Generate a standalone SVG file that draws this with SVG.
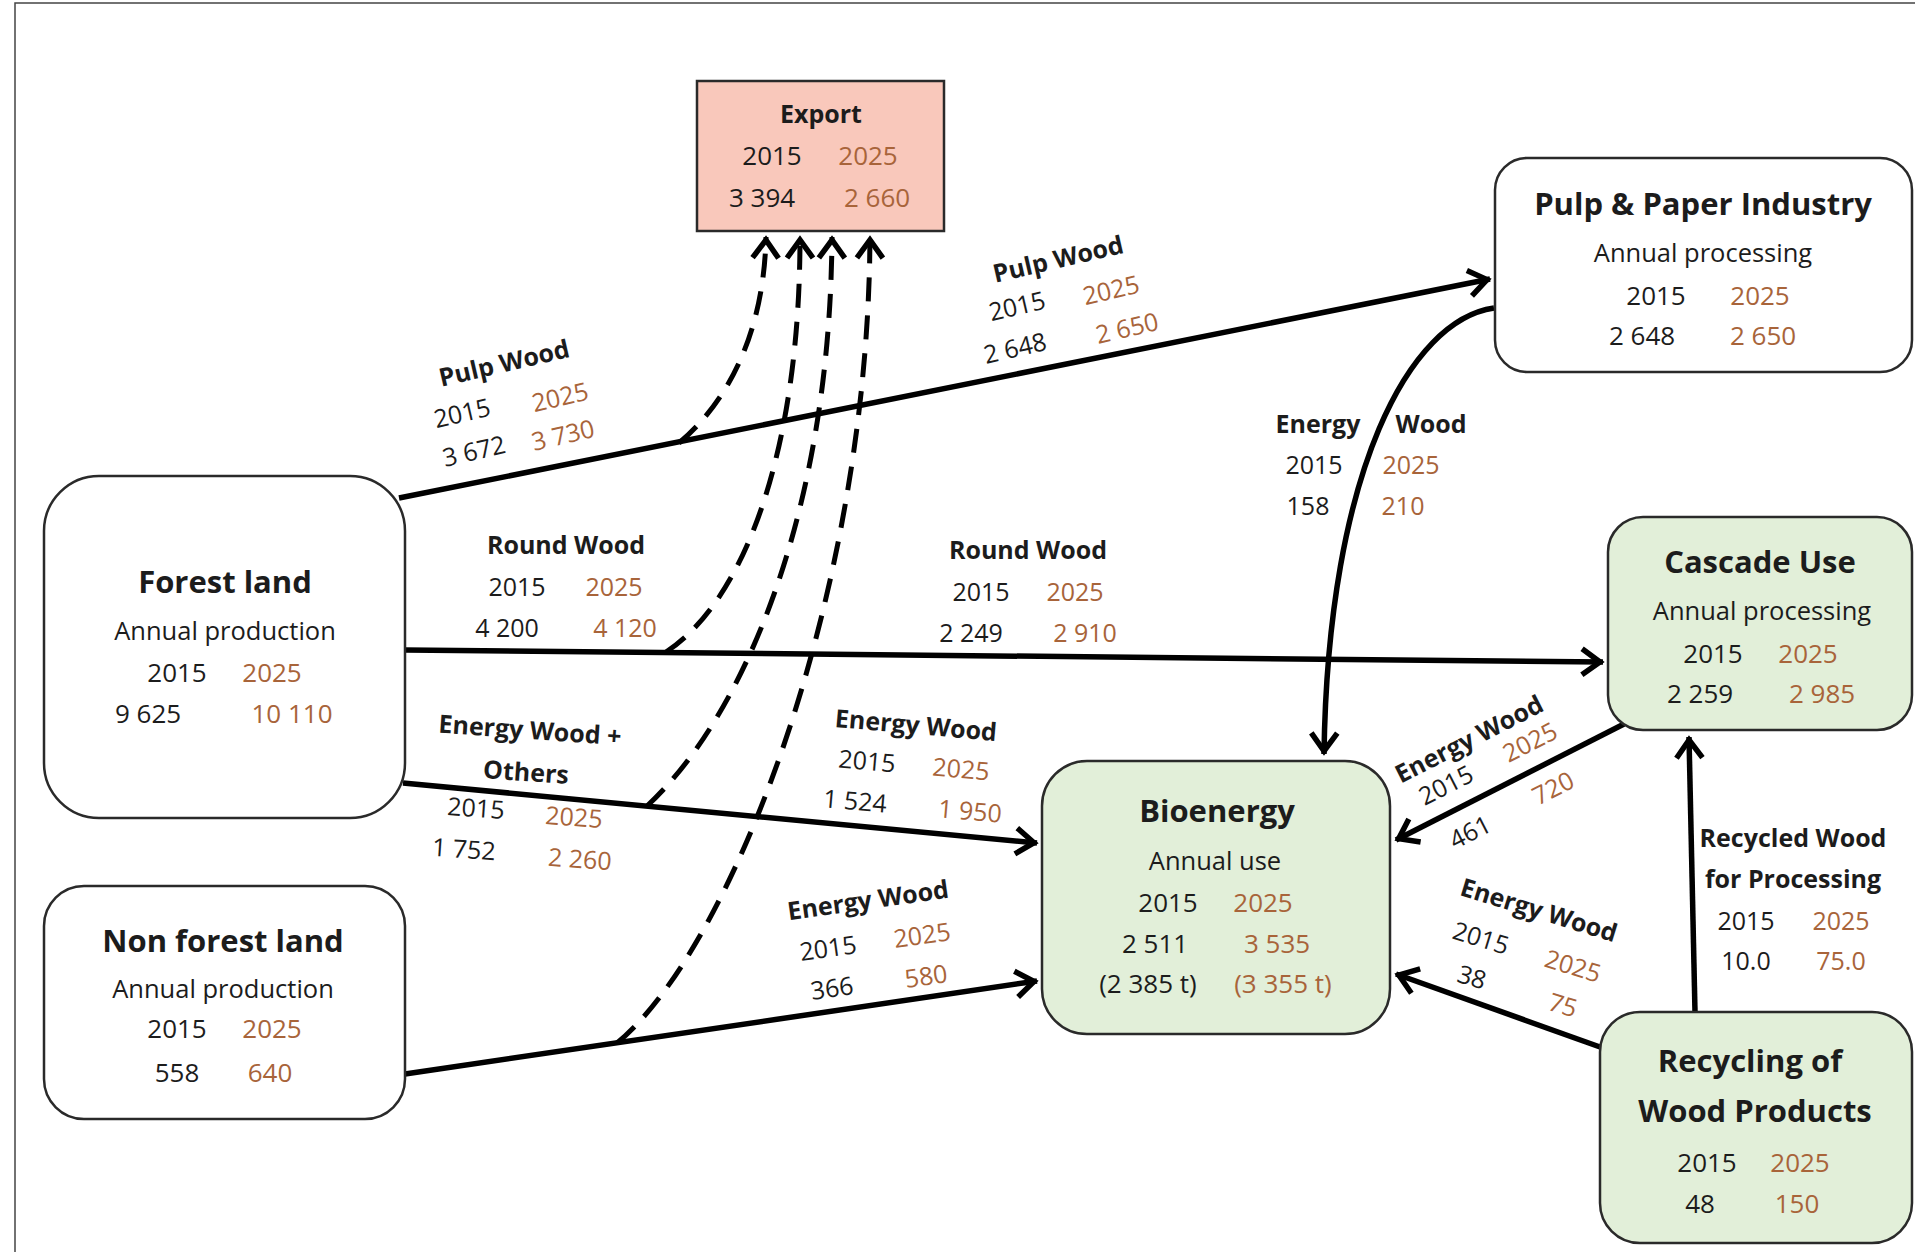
<svg xmlns="http://www.w3.org/2000/svg" width="1915" height="1252" viewBox="0 0 1915 1252">
<defs>
<style>
text{font-family:"Open Sans","Noto Sans","Liberation Sans",sans-serif;text-anchor:middle;fill:#1c1c1c}
.t{font-size:31px;font-weight:700}
.s{font-size:25.5px}
.l{font-size:25px;font-weight:700}
.n{font-size:25px}
.v{font-size:26px}
.o{fill:#a8643a}
.node{stroke:#2a2a2a;stroke-width:2.5}
.w{fill:#ffffff}
.g{fill:#e2efd9}
.line{fill:none;stroke:#000;stroke-width:5.5;marker-end:url(#ah)}
.dash{fill:none;stroke:#000;stroke-width:5;stroke-dasharray:24 14;marker-end:url(#ah)}
</style>
<marker id="ah" markerUnits="userSpaceOnUse" markerWidth="50" markerHeight="50" viewBox="-30 -25 50 50" refX="3" refY="0" orient="auto" overflow="visible">
<path d="M-18,-13 L0,0 L-18,13" fill="none" stroke="#000" stroke-width="5.5" stroke-dasharray="none" stroke-linejoin="miter"/>
</marker>
</defs>
<rect x="0" y="0" width="1915" height="1252" fill="#ffffff"/>
<path d="M15,1252 V3 H1915" fill="none" stroke="#444" stroke-width="1.5"/>

<g id="connectors">
<path class="line" d="M399,498 L1490,279"/>
<path class="line" d="M405,650 L1603,662"/>
<path class="line" d="M403,783 L1037,843"/>
<path class="line" d="M405,1074 L1037,981"/>
<path class="line" d="M1494,308 C1410,320 1328,470 1324,754"/>
<path class="line" d="M1624,724 L1396,840"/>
<path class="line" d="M1600,1047 L1396,974"/>
<path class="line" d="M1695,1012 L1689,737"/>
<path class="dash" d="M679,443 C730,400 764,330 766,237"/>
<path class="dash" d="M666,652 C745,600 800,450 800,237"/>
<path class="dash" d="M647,806 C740,720 830,520 832,237"/>
<path class="dash" d="M617,1043 C730,950 868,600 870,237"/>
</g>

<g id="export">
<rect class="node" x="697" y="81" width="247" height="150" fill="#f9c8bb"/>
<text class="l" x="821" y="123">Export</text>
<text class="v" x="772" y="165">2015</text>
<text class="v o" x="868" y="165">2025</text>
<text class="v" x="762" y="207">3 394</text>
<text class="v o" x="877" y="207">2 660</text>
</g>

<g id="pulp-paper">
<rect class="node w" x="1495" y="158" width="417" height="214" rx="32"/>
<text class="t" x="1703" y="215">Pulp &amp; Paper Industry</text>
<text class="s" x="1703" y="262">Annual processing</text>
<text class="v" x="1656" y="305">2015</text>
<text class="v o" x="1760" y="305">2025</text>
<text class="v" x="1642" y="345">2 648</text>
<text class="v o" x="1763" y="345">2 650</text>
</g>

<g id="forest-land">
<rect class="node w" x="44" y="476" width="361" height="342" rx="55"/>
<text class="t" x="225" y="593">Forest land</text>
<text class="s" x="225" y="640">Annual production</text>
<text class="v" x="177" y="682">2015</text>
<text class="v o" x="272" y="682">2025</text>
<text class="v" x="148" y="723">9 625</text>
<text class="v o" x="292" y="723">10 110</text>
</g>

<g id="non-forest-land">
<rect class="node w" x="44" y="886" width="361" height="233" rx="40"/>
<text class="t" x="223" y="952">Non forest land</text>
<text class="s" x="223" y="998">Annual production</text>
<text class="v" x="177" y="1038">2015</text>
<text class="v o" x="272" y="1038">2025</text>
<text class="v" x="177" y="1082">558</text>
<text class="v o" x="270" y="1082">640</text>
</g>

<g id="bioenergy">
<rect class="node g" x="1042" y="761" width="348" height="273" rx="45"/>
<text class="t" x="1217" y="822">Bioenergy</text>
<text class="s" x="1215" y="870">Annual use</text>
<text class="v" x="1168" y="912">2015</text>
<text class="v o" x="1263" y="912">2025</text>
<text class="v" x="1155" y="953">2 511</text>
<text class="v o" x="1277" y="953">3 535</text>
<text class="v" x="1148" y="993">(2 385 t)</text>
<text class="v o" x="1283" y="993">(3 355 t)</text>
</g>

<g id="cascade-use">
<rect class="node g" x="1608" y="517" width="304" height="213" rx="35"/>
<text class="t" x="1760" y="573">Cascade Use</text>
<text class="s" x="1762" y="620">Annual processing</text>
<text class="v" x="1713" y="663">2015</text>
<text class="v o" x="1808" y="663">2025</text>
<text class="v" x="1700" y="703">2 259</text>
<text class="v o" x="1822" y="703">2 985</text>
</g>

<g id="recycling">
<rect class="node g" x="1600" y="1012" width="312" height="231" rx="40"/>
<text class="t" x="1750" y="1072">Recycling of</text>
<text class="t" x="1755" y="1122">Wood Products</text>
<text class="v" x="1707" y="1172">2015</text>
<text class="v o" x="1800" y="1172">2025</text>
<text class="v" x="1700" y="1213">48</text>
<text class="v o" x="1797" y="1213">150</text>
</g>

<g id="labels">
<g id="lbl-pulp-left">
<text class="l" x="504" y="372" transform="rotate(-13 504 363)">Pulp Wood</text>
<text class="n" x="462" y="422" transform="rotate(-13 462 413)">2015</text>
<text class="n o" x="560" y="406" transform="rotate(-13 560 397)">2025</text>
<text class="n" x="474" y="460" transform="rotate(-13 474 451)">3 672</text>
<text class="n o" x="563" y="444" transform="rotate(-13 563 435)">3 730</text>
</g>
<g id="lbl-pulp-right">
<text class="l" x="1058" y="268" transform="rotate(-13 1058 259)">Pulp Wood</text>
<text class="n" x="1017" y="315" transform="rotate(-13 1017 306)">2015</text>
<text class="n o" x="1111" y="299" transform="rotate(-13 1111 290)">2025</text>
<text class="n" x="1015" y="357" transform="rotate(-13 1015 348)">2 648</text>
<text class="n o" x="1127" y="337" transform="rotate(-13 1127 328)">2 650</text>
</g>
<g id="lbl-round-left">
<text class="l" x="566" y="554">Round Wood</text>
<text class="n" x="517" y="596">2015</text>
<text class="n o" x="614" y="596">2025</text>
<text class="n" x="507" y="637">4 200</text>
<text class="n o" x="625" y="637">4 120</text>
</g>
<g id="lbl-round-right">
<text class="l" x="1028" y="559">Round Wood</text>
<text class="n" x="981" y="601">2015</text>
<text class="n o" x="1075" y="601">2025</text>
<text class="n" x="971" y="642">2 249</text>
<text class="n o" x="1085" y="642">2 910</text>
</g>
<g id="lbl-energy-others">
<text class="l" x="530" y="739" transform="rotate(4 530 730)">Energy Wood +</text>
<text class="l" x="526" y="781" transform="rotate(4 526 772)">Others</text>
<text class="n" x="476" y="817" transform="rotate(4 476 808)">2015</text>
<text class="n o" x="574" y="826" transform="rotate(4 574 817)">2025</text>
<text class="n" x="464" y="858" transform="rotate(4 464 849)">1 752</text>
<text class="n o" x="580" y="868" transform="rotate(4 580 859)">2 260</text>
</g>
<g id="lbl-energy-mid">
<text class="l" x="916" y="734" transform="rotate(5 916 725)">Energy Wood</text>
<text class="n" x="867" y="770" transform="rotate(5 867 761)">2015</text>
<text class="n o" x="961" y="778" transform="rotate(5 961 769)">2025</text>
<text class="n" x="855" y="810" transform="rotate(5 855 801)">1 524</text>
<text class="n o" x="970" y="820" transform="rotate(5 970 811)">1 950</text>
</g>
<g id="lbl-energy-nonforest">
<text class="l" x="868" y="909" transform="rotate(-8 868 900)">Energy Wood</text>
<text class="n" x="828" y="957" transform="rotate(-8 828 948)">2015</text>
<text class="n o" x="922" y="944" transform="rotate(-8 922 935)">2025</text>
<text class="n" x="832" y="997" transform="rotate(-8 832 988)">366</text>
<text class="n o" x="926" y="985" transform="rotate(-8 926 976)">580</text>
</g>
<g id="lbl-energy-pulp">
<text class="l" x="1318" y="433">Energy</text>
<text class="l" x="1431" y="433">Wood</text>
<text class="n" x="1314" y="474">2015</text>
<text class="n o" x="1411" y="474">2025</text>
<text class="n" x="1308" y="515">158</text>
<text class="n o" x="1403" y="515">210</text>
</g>
<g id="lbl-energy-cascade">
<text class="l" x="1469" y="748" transform="rotate(-27 1469 739)">Energy Wood</text>
<text class="n" x="1446" y="794" transform="rotate(-27 1446 785)">2015</text>
<text class="n o" x="1530" y="751" transform="rotate(-27 1530 742)">2025</text>
<text class="n" x="1470" y="841" transform="rotate(-27 1470 832)">461</text>
<text class="n o" x="1553" y="797" transform="rotate(-27 1553 788)">720</text>
</g>
<g id="lbl-energy-recycling">
<text class="l" x="1539" y="919" transform="rotate(17 1539 910)">Energy Wood</text>
<text class="n" x="1481" y="947" transform="rotate(17 1481 938)">2015</text>
<text class="n o" x="1573" y="975" transform="rotate(17 1573 966)">2025</text>
<text class="n" x="1472" y="986" transform="rotate(17 1472 977)">38</text>
<text class="n o" x="1563" y="1014" transform="rotate(17 1563 1005)">75</text>
</g>
<g id="lbl-recycled">
<text class="l" x="1793" y="847">Recycled Wood</text>
<text class="l" x="1793" y="888">for Processing</text>
<text class="n" x="1746" y="930">2015</text>
<text class="n o" x="1841" y="930">2025</text>
<text class="n" x="1746" y="970">10.0</text>
<text class="n o" x="1841" y="970">75.0</text>
</g>
</g>
</svg>
